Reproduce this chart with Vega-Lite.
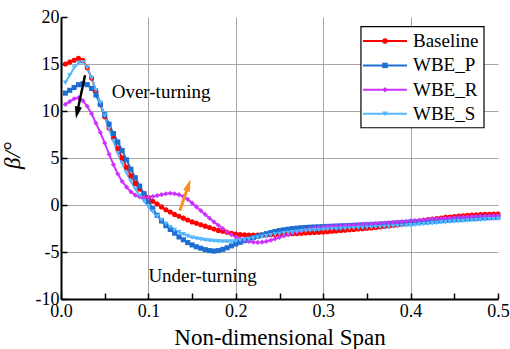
{
  "$schema": "https://vega.github.io/schema/vega-lite/v6.json",
  "width": 437,
  "height": 282,
  "autosize": "none",
  "padding": {"left": 61, "top": 17, "right": 12, "bottom": 50},
  "background": "white",
  "config": {
    "font": "Times New Roman",
    "view": {"stroke": null},
    "axis": {
      "domainColor": "black",
      "domainWidth": 2,
      "tickColor": "black",
      "tickWidth": 1.5,
      "gridColor": "#a6a6a6",
      "gridWidth": 1,
      "labelFont": "Times New Roman",
      "titleFont": "Times New Roman",
      "labelFontSize": 18,
      "labelColor": "black",
      "titleFontSize": 23,
      "titleFontWeight": "normal",
      "titleColor": "black"
    }
  },
  "datasets": {
    "beta": [
      {"x": 0.005, "Baseline": 15.0, "WBE_P": 11.9, "WBE_R": 10.7, "WBE_S": 13.0},
      {"x": 0.010, "Baseline": 15.2, "WBE_P": 12.2, "WBE_R": 11.0, "WBE_S": 13.8},
      {"x": 0.015, "Baseline": 15.4, "WBE_P": 12.5, "WBE_R": 11.3, "WBE_S": 14.6},
      {"x": 0.020, "Baseline": 15.6, "WBE_P": 12.8, "WBE_R": 11.4, "WBE_S": 15.1},
      {"x": 0.025, "Baseline": 15.4, "WBE_P": 12.9, "WBE_R": 11.1, "WBE_S": 15.2},
      {"x": 0.030, "Baseline": 14.6, "WBE_P": 12.8, "WBE_R": 10.5, "WBE_S": 14.6},
      {"x": 0.035, "Baseline": 13.5, "WBE_P": 12.4, "WBE_R": 9.7, "WBE_S": 13.5},
      {"x": 0.040, "Baseline": 12.1, "WBE_P": 11.7, "WBE_R": 8.7, "WBE_S": 12.2},
      {"x": 0.045, "Baseline": 10.7, "WBE_P": 10.7, "WBE_R": 7.7, "WBE_S": 10.9},
      {"x": 0.050, "Baseline": 9.4, "WBE_P": 9.6, "WBE_R": 6.6, "WBE_S": 9.5},
      {"x": 0.055, "Baseline": 8.2, "WBE_P": 8.6, "WBE_R": 5.4, "WBE_S": 8.1},
      {"x": 0.060, "Baseline": 7.1, "WBE_P": 7.6, "WBE_R": 4.3, "WBE_S": 6.8},
      {"x": 0.065, "Baseline": 6.0, "WBE_P": 6.7, "WBE_R": 3.3, "WBE_S": 5.5},
      {"x": 0.070, "Baseline": 5.0, "WBE_P": 5.8, "WBE_R": 2.5, "WBE_S": 4.4},
      {"x": 0.075, "Baseline": 4.0, "WBE_P": 4.8, "WBE_R": 1.9, "WBE_S": 3.4},
      {"x": 0.080, "Baseline": 3.1, "WBE_P": 3.8, "WBE_R": 1.4, "WBE_S": 2.5},
      {"x": 0.085, "Baseline": 2.3, "WBE_P": 2.9, "WBE_R": 1.05, "WBE_S": 1.7},
      {"x": 0.090, "Baseline": 1.7, "WBE_P": 2.0, "WBE_R": 0.85, "WBE_S": 1.0},
      {"x": 0.095, "Baseline": 1.2, "WBE_P": 1.2, "WBE_R": 0.75, "WBE_S": 0.4},
      {"x": 0.100, "Baseline": 0.8, "WBE_P": 0.4, "WBE_R": 0.8, "WBE_S": -0.2},
      {"x": 0.105, "Baseline": 0.4, "WBE_P": -0.4, "WBE_R": 0.9, "WBE_S": -0.7},
      {"x": 0.110, "Baseline": 0.1, "WBE_P": -1.1, "WBE_R": 1.0, "WBE_S": -1.2},
      {"x": 0.115, "Baseline": -0.2, "WBE_P": -1.7, "WBE_R": 1.1, "WBE_S": -1.6},
      {"x": 0.120, "Baseline": -0.5, "WBE_P": -2.2, "WBE_R": 1.2, "WBE_S": -2.0},
      {"x": 0.125, "Baseline": -0.75, "WBE_P": -2.6, "WBE_R": 1.25, "WBE_S": -2.35},
      {"x": 0.130, "Baseline": -1.0, "WBE_P": -3.0, "WBE_R": 1.2, "WBE_S": -2.65},
      {"x": 0.135, "Baseline": -1.2, "WBE_P": -3.4, "WBE_R": 1.1, "WBE_S": -2.9},
      {"x": 0.140, "Baseline": -1.4, "WBE_P": -3.7, "WBE_R": 0.9, "WBE_S": -3.1},
      {"x": 0.145, "Baseline": -1.6, "WBE_P": -4.0, "WBE_R": 0.6, "WBE_S": -3.3},
      {"x": 0.150, "Baseline": -1.8, "WBE_P": -4.25, "WBE_R": 0.2, "WBE_S": -3.45},
      {"x": 0.155, "Baseline": -1.95, "WBE_P": -4.45, "WBE_R": -0.2, "WBE_S": -3.55},
      {"x": 0.160, "Baseline": -2.1, "WBE_P": -4.6, "WBE_R": -0.6, "WBE_S": -3.65},
      {"x": 0.165, "Baseline": -2.25, "WBE_P": -4.75, "WBE_R": -1.0, "WBE_S": -3.72},
      {"x": 0.170, "Baseline": -2.4, "WBE_P": -4.85, "WBE_R": -1.4, "WBE_S": -3.78},
      {"x": 0.175, "Baseline": -2.55, "WBE_P": -4.9, "WBE_R": -1.8, "WBE_S": -3.82},
      {"x": 0.180, "Baseline": -2.7, "WBE_P": -4.85, "WBE_R": -2.15, "WBE_S": -3.85},
      {"x": 0.185, "Baseline": -2.8, "WBE_P": -4.72, "WBE_R": -2.5, "WBE_S": -3.87},
      {"x": 0.190, "Baseline": -2.9, "WBE_P": -4.55, "WBE_R": -2.85, "WBE_S": -3.88},
      {"x": 0.195, "Baseline": -3.0, "WBE_P": -4.35, "WBE_R": -3.15, "WBE_S": -3.87},
      {"x": 0.200, "Baseline": -3.08, "WBE_P": -4.15, "WBE_R": -3.4, "WBE_S": -3.84},
      {"x": 0.205, "Baseline": -3.14, "WBE_P": -3.97, "WBE_R": -3.6, "WBE_S": -3.78},
      {"x": 0.210, "Baseline": -3.18, "WBE_P": -3.8, "WBE_R": -3.75, "WBE_S": -3.7},
      {"x": 0.215, "Baseline": -3.2, "WBE_P": -3.63, "WBE_R": -3.87, "WBE_S": -3.62},
      {"x": 0.220, "Baseline": -3.21, "WBE_P": -3.47, "WBE_R": -3.95, "WBE_S": -3.53},
      {"x": 0.225, "Baseline": -3.21, "WBE_P": -3.32, "WBE_R": -3.98, "WBE_S": -3.45},
      {"x": 0.230, "Baseline": -3.2, "WBE_P": -3.18, "WBE_R": -3.95, "WBE_S": -3.37},
      {"x": 0.235, "Baseline": -3.19, "WBE_P": -3.05, "WBE_R": -3.87, "WBE_S": -3.29},
      {"x": 0.240, "Baseline": -3.17, "WBE_P": -2.93, "WBE_R": -3.75, "WBE_S": -3.21},
      {"x": 0.245, "Baseline": -3.14, "WBE_P": -2.82, "WBE_R": -3.6, "WBE_S": -3.14},
      {"x": 0.250, "Baseline": -3.12, "WBE_P": -2.72, "WBE_R": -3.44, "WBE_S": -3.07},
      {"x": 0.255, "Baseline": -3.1, "WBE_P": -2.64, "WBE_R": -3.28, "WBE_S": -3.0},
      {"x": 0.260, "Baseline": -3.08, "WBE_P": -2.57, "WBE_R": -3.13, "WBE_S": -2.95},
      {"x": 0.265, "Baseline": -3.06, "WBE_P": -2.51, "WBE_R": -2.99, "WBE_S": -2.9},
      {"x": 0.270, "Baseline": -3.04, "WBE_P": -2.46, "WBE_R": -2.86, "WBE_S": -2.85},
      {"x": 0.275, "Baseline": -3.01, "WBE_P": -2.42, "WBE_R": -2.74, "WBE_S": -2.8},
      {"x": 0.280, "Baseline": -2.98, "WBE_P": -2.39, "WBE_R": -2.63, "WBE_S": -2.76},
      {"x": 0.285, "Baseline": -2.95, "WBE_P": -2.36, "WBE_R": -2.53, "WBE_S": -2.72},
      {"x": 0.290, "Baseline": -2.92, "WBE_P": -2.34, "WBE_R": -2.45, "WBE_S": -2.68},
      {"x": 0.295, "Baseline": -2.9, "WBE_P": -2.32, "WBE_R": -2.39, "WBE_S": -2.65},
      {"x": 0.300, "Baseline": -2.87, "WBE_P": -2.3, "WBE_R": -2.34, "WBE_S": -2.62},
      {"x": 0.305, "Baseline": -2.84, "WBE_P": -2.28, "WBE_R": -2.3, "WBE_S": -2.59},
      {"x": 0.310, "Baseline": -2.8, "WBE_P": -2.26, "WBE_R": -2.27, "WBE_S": -2.57},
      {"x": 0.315, "Baseline": -2.76, "WBE_P": -2.24, "WBE_R": -2.24, "WBE_S": -2.55},
      {"x": 0.320, "Baseline": -2.72, "WBE_P": -2.22, "WBE_R": -2.21, "WBE_S": -2.53},
      {"x": 0.325, "Baseline": -2.68, "WBE_P": -2.2, "WBE_R": -2.18, "WBE_S": -2.51},
      {"x": 0.330, "Baseline": -2.64, "WBE_P": -2.18, "WBE_R": -2.15, "WBE_S": -2.49},
      {"x": 0.335, "Baseline": -2.6, "WBE_P": -2.16, "WBE_R": -2.12, "WBE_S": -2.47},
      {"x": 0.340, "Baseline": -2.56, "WBE_P": -2.14, "WBE_R": -2.09, "WBE_S": -2.45},
      {"x": 0.345, "Baseline": -2.52, "WBE_P": -2.12, "WBE_R": -2.06, "WBE_S": -2.43},
      {"x": 0.350, "Baseline": -2.48, "WBE_P": -2.1, "WBE_R": -2.03, "WBE_S": -2.41},
      {"x": 0.355, "Baseline": -2.44, "WBE_P": -2.08, "WBE_R": -2.0, "WBE_S": -2.39},
      {"x": 0.360, "Baseline": -2.39, "WBE_P": -2.06, "WBE_R": -1.97, "WBE_S": -2.37},
      {"x": 0.365, "Baseline": -2.34, "WBE_P": -2.03, "WBE_R": -1.94, "WBE_S": -2.35},
      {"x": 0.370, "Baseline": -2.29, "WBE_P": -2.0, "WBE_R": -1.91, "WBE_S": -2.33},
      {"x": 0.375, "Baseline": -2.23, "WBE_P": -1.97, "WBE_R": -1.88, "WBE_S": -2.31},
      {"x": 0.380, "Baseline": -2.17, "WBE_P": -1.94, "WBE_R": -1.85, "WBE_S": -2.28},
      {"x": 0.385, "Baseline": -2.1, "WBE_P": -1.91, "WBE_R": -1.81, "WBE_S": -2.25},
      {"x": 0.390, "Baseline": -2.03, "WBE_P": -1.88, "WBE_R": -1.77, "WBE_S": -2.22},
      {"x": 0.395, "Baseline": -1.95, "WBE_P": -1.85, "WBE_R": -1.73, "WBE_S": -2.19},
      {"x": 0.400, "Baseline": -1.87, "WBE_P": -1.82, "WBE_R": -1.69, "WBE_S": -2.15},
      {"x": 0.405, "Baseline": -1.79, "WBE_P": -1.79, "WBE_R": -1.65, "WBE_S": -2.11},
      {"x": 0.410, "Baseline": -1.71, "WBE_P": -1.76, "WBE_R": -1.61, "WBE_S": -2.07},
      {"x": 0.415, "Baseline": -1.63, "WBE_P": -1.73, "WBE_R": -1.57, "WBE_S": -2.03},
      {"x": 0.420, "Baseline": -1.56, "WBE_P": -1.7, "WBE_R": -1.53, "WBE_S": -1.99},
      {"x": 0.425, "Baseline": -1.5, "WBE_P": -1.67, "WBE_R": -1.5, "WBE_S": -1.95},
      {"x": 0.430, "Baseline": -1.44, "WBE_P": -1.64, "WBE_R": -1.47, "WBE_S": -1.91},
      {"x": 0.435, "Baseline": -1.38, "WBE_P": -1.61, "WBE_R": -1.44, "WBE_S": -1.87},
      {"x": 0.440, "Baseline": -1.32, "WBE_P": -1.58, "WBE_R": -1.41, "WBE_S": -1.83},
      {"x": 0.445, "Baseline": -1.27, "WBE_P": -1.55, "WBE_R": -1.38, "WBE_S": -1.79},
      {"x": 0.450, "Baseline": -1.22, "WBE_P": -1.52, "WBE_R": -1.35, "WBE_S": -1.76},
      {"x": 0.455, "Baseline": -1.18, "WBE_P": -1.49, "WBE_R": -1.32, "WBE_S": -1.73},
      {"x": 0.460, "Baseline": -1.14, "WBE_P": -1.46, "WBE_R": -1.29, "WBE_S": -1.7},
      {"x": 0.465, "Baseline": -1.1, "WBE_P": -1.43, "WBE_R": -1.26, "WBE_S": -1.67},
      {"x": 0.470, "Baseline": -1.07, "WBE_P": -1.4, "WBE_R": -1.23, "WBE_S": -1.64},
      {"x": 0.475, "Baseline": -1.04, "WBE_P": -1.37, "WBE_R": -1.21, "WBE_S": -1.61},
      {"x": 0.480, "Baseline": -1.02, "WBE_P": -1.35, "WBE_R": -1.19, "WBE_S": -1.58},
      {"x": 0.485, "Baseline": -1.0, "WBE_P": -1.33, "WBE_R": -1.17, "WBE_S": -1.55},
      {"x": 0.490, "Baseline": -0.98, "WBE_P": -1.31, "WBE_R": -1.15, "WBE_S": -1.52},
      {"x": 0.495, "Baseline": -0.97, "WBE_P": -1.29, "WBE_R": -1.13, "WBE_S": -1.5},
      {"x": 0.500, "Baseline": -0.96, "WBE_P": -1.27, "WBE_R": -1.11, "WBE_S": -1.48}
    ],
    "notes": [
      {"x": 0.058, "y": 12.05, "text": "Over-turning"},
      {"x": 0.1, "y": -7.5, "text": "Under-turning"}
    ],
    "arrows": [
      {"name": "over", "x": 0.0275, "y": 13.8, "x2": 0.0185, "y2": 9.83, "angle": 192},
      {"name": "under", "x": 0.136, "y": -0.6, "x2": 0.1459, "y2": 2.1, "angle": 19}
    ],
    "key": [
      {"series": "Baseline", "row": 17.45},
      {"series": "WBE_P", "row": 14.85},
      {"series": "WBE_R", "row": 12.25},
      {"series": "WBE_S", "row": 9.7}
    ]
  },
  "layer": [
    {
      "mark": {"type": "rule", "color": "black", "strokeWidth": 3, "strokeDash": [5, 10]},
      "encoding": {
        "y": {
          "datum": 0,
          "type": "quantitative",
          "scale": {"domain": [-10, 20], "nice": false, "zero": false},
          "axis": {
            "title": "β/°",
            "titleFont": "Times New Roman",
            "titleFontStyle": "italic",
            "titleAngle": -90,
            "titleX": -49,
            "titleY": 138,
            "titleAlign": "center",
            "titleBaseline": "middle",
            "values": [-10, -7.5, -5, -2.5, 0, 2.5, 5, 7.5, 10, 12.5, 15, 17.5, 20],
            "labelExpr": "datum.value % 5 === 0 ? toString(datum.value) : ''",
            "labelFont": "Times New Roman",
            "labelPadding": 8,
            "tickSize": -6,
            "grid": true,
            "gridOpacity": {"condition": {"test": "datum.value % 5 !== 0 || datum.value === 20 || datum.value === -10", "value": 0}, "value": 1},
            "encode": {"ticks": {"update": {"x2": {"signal": "datum.value % 5 !== 0 ? 3 : 6"}}}}
          }
        }
      }
    },
    {
      "data": {"name": "beta"},
      "transform": [{"fold": ["Baseline", "WBE_P", "WBE_R", "WBE_S"], "as": ["series", "beta"]}],
      "mark": {"type": "line", "strokeWidth": 2},
      "encoding": {
        "x": {
          "field": "x",
          "type": "quantitative",
          "scale": {"domain": [0, 0.5], "nice": false, "zero": false},
          "axis": {
            "title": "Non-dimensional Span",
            "titleFont": "Times New Roman",
            "titleY": 45,
            "titleBaseline": "alphabetic",
            "values": [0, 0.05, 0.1, 0.15, 0.2, 0.25, 0.3, 0.35, 0.4, 0.45, 0.5],
            "labelExpr": "round(datum.value * 100) % 10 === 0 ? format(datum.value, '.1f') : ''",
            "labelFont": "Times New Roman",
            "labelPadding": 9,
            "labelFlush": false,
            "tickSize": -6,
            "grid": true,
            "gridOpacity": {"condition": {"test": "round(datum.value * 100) % 10 !== 0 || datum.value < 0.01 || datum.value > 0.49", "value": 0}, "value": 1},
            "encode": {"ticks": {"update": {"y2": {"signal": "round(datum.value * 100) % 10 !== 0 ? -3 : -6"}}}}
          }
        },
        "y": {"field": "beta", "type": "quantitative"},
        "color": {
          "field": "series",
          "type": "nominal",
          "scale": {"domain": ["Baseline", "WBE_P", "WBE_R", "WBE_S"], "range": ["#ff0000", "#1f6fd1", "#cc33ff", "#55b8ff"]},
          "legend": null
        }
      }
    },
    {
      "data": {"name": "beta"},
      "transform": [{"fold": ["Baseline", "WBE_P", "WBE_R", "WBE_S"], "as": ["series", "beta"]}],
      "mark": {"type": "point", "filled": true, "opacity": 1, "size": 26},
      "encoding": {
        "x": {"field": "x", "type": "quantitative"},
        "y": {"field": "beta", "type": "quantitative"},
        "shape": {
          "field": "series",
          "type": "nominal",
          "scale": {"domain": ["Baseline", "WBE_P", "WBE_R", "WBE_S"], "range": ["circle", "square", "diamond", "triangle-down"]},
          "legend": null
        },
        "color": {"field": "series", "type": "nominal", "legend": null}
      }
    },
    {
      "data": {"name": "notes"},
      "mark": {"type": "text", "align": "left", "baseline": "middle", "fontSize": 19, "font": "Times New Roman", "color": "black"},
      "encoding": {
        "x": {"field": "x", "type": "quantitative"},
        "y": {"field": "y", "type": "quantitative"},
        "text": {"field": "text"}
      }
    },
    {
      "data": {"name": "arrows"},
      "transform": [{"filter": "datum.name === 'over'"}],
      "layer": [
        {
          "mark": {"type": "rule", "color": "black", "strokeWidth": 2.5},
          "encoding": {
            "x": {"field": "x", "type": "quantitative"},
            "y": {"field": "y", "type": "quantitative"},
            "x2": {"field": "x2"},
            "y2": {"field": "y2"}
          }
        },
        {
          "mark": {"type": "point", "shape": "M0,-1L0.6,1L-0.6,1Z", "filled": true, "opacity": 1, "color": "black", "size": 144},
          "encoding": {
            "x": {"field": "x2", "type": "quantitative"},
            "y": {"field": "y2", "type": "quantitative"},
            "angle": {"field": "angle", "type": "quantitative", "scale": null}
          }
        }
      ]
    },
    {
      "data": {"name": "arrows"},
      "transform": [{"filter": "datum.name === 'under'"}],
      "layer": [
        {
          "mark": {"type": "rule", "color": "#f7901e", "strokeWidth": 3},
          "encoding": {
            "x": {"field": "x", "type": "quantitative"},
            "y": {"field": "y", "type": "quantitative"},
            "x2": {"field": "x2"},
            "y2": {"field": "y2"}
          }
        },
        {
          "mark": {"type": "point", "shape": "M0,-1L0.6,1L-0.6,1Z", "filled": true, "opacity": 1, "color": "#f7901e", "size": 144},
          "encoding": {
            "x": {"field": "x2", "type": "quantitative"},
            "y": {"field": "y2", "type": "quantitative"},
            "angle": {"field": "angle", "type": "quantitative", "scale": null}
          }
        }
      ]
    },
    {
      "data": {"values": [{}]},
      "mark": {"type": "rect", "fill": "white", "stroke": "black", "strokeWidth": 1.2},
      "encoding": {
        "x": {"datum": 0.3432, "type": "quantitative"},
        "x2": {"datum": 0.484},
        "y": {"datum": 18.97, "type": "quantitative"},
        "y2": {"datum": 8.22}
      }
    },
    {
      "data": {"name": "key"},
      "mark": {"type": "rule", "strokeWidth": 2},
      "encoding": {
        "x": {"datum": 0.3455, "type": "quantitative"},
        "x2": {"datum": 0.3959},
        "y": {"field": "row", "type": "quantitative"},
        "color": {"field": "series", "type": "nominal", "legend": null}
      }
    },
    {
      "data": {"name": "key"},
      "mark": {"type": "point", "filled": true, "opacity": 1, "size": 30},
      "encoding": {
        "x": {"datum": 0.3707, "type": "quantitative"},
        "y": {"field": "row", "type": "quantitative"},
        "shape": {"field": "series", "type": "nominal", "legend": null},
        "color": {"field": "series", "type": "nominal", "legend": null}
      }
    },
    {
      "data": {"name": "key"},
      "mark": {"type": "text", "align": "left", "baseline": "middle", "fontSize": 19, "font": "Times New Roman", "color": "black"},
      "encoding": {
        "x": {"datum": 0.4027, "type": "quantitative"},
        "y": {"field": "row", "type": "quantitative"},
        "text": {"field": "series"}
      }
    }
  ]
}
